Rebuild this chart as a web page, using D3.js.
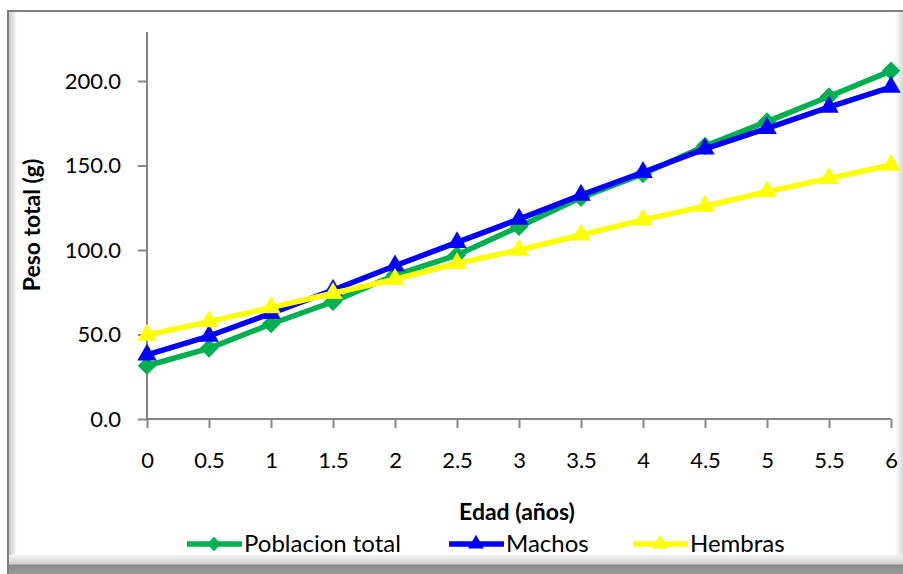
<!DOCTYPE html>
<html>
<head>
<meta charset="utf-8">
<script src="https://cdn.jsdelivr.net/npm/d3@7"></script>
<style>
  body { margin: 0; background: #fff; }
  svg { display: block; font-family: Lato, "Open Sans", sans-serif; }
</style>
</head>
<body>
<svg id="chart" width="903" height="574"></svg>
<script>
// Data
var edades = [0, 0.5, 1, 1.5, 2, 2.5, 3, 3.5, 4, 4.5, 5, 5.5, 6];
var poblacionTotal = [31.5, 41.8, 56.2, 69.4, 85.2, 97.0, 113.8, 131.0, 145.0, 161.5, 176.0, 190.8, 206.0];
var machos = [37.9, 49.1, 62.5, 76.3, 90.7, 104.5, 118.3, 132.5, 146.0, 159.8, 172.0, 184.6, 196.4];
var hembras = [49.7, 57.6, 65.9, 74.4, 82.7, 92.1, 100.0, 108.9, 117.8, 126.0, 134.5, 142.4, 150.3];
var yTicks = [0, 50, 100, 150, 200];

var series = [
  { name: "Poblacion total", values: poblacionTotal, color: "#00B050", marker: "diamond" },
  { name: "Machos", values: machos, color: "#0000FF", marker: "triangle" },
  { name: "Hembras", values: hembras, color: "#FFFF00", marker: "triangle" }
];

var svg = d3.select("#chart"),
    width = +svg.attr("width"),
    height = +svg.attr("height");

// frame with bevel
var defs = svg.append("defs");
var gl = defs.append("linearGradient").attr("id", "bevL").attr("x1", 0).attr("x2", 1);
gl.append("stop").attr("offset", 0).attr("stop-color", "#c8c8c8");
gl.append("stop").attr("offset", 1).attr("stop-color", "#ffffff");
var gb = defs.append("linearGradient").attr("id", "bevB").attr("x1", 0).attr("x2", 0).attr("y1", 0).attr("y2", 1);
gb.append("stop").attr("offset", 0).attr("stop-color", "#f4f4f4");
gb.append("stop").attr("offset", 0.45).attr("stop-color", "#d0d0d0");
gb.append("stop").attr("offset", 0.55).attr("stop-color", "#8a8a8a");
gb.append("stop").attr("offset", 1).attr("stop-color", "#9a9a9a");
var gr = defs.append("linearGradient").attr("id", "bevR").attr("x1", 0).attr("x2", 1);
gr.append("stop").attr("offset", 0).attr("stop-color", "#ffffff");
gr.append("stop").attr("offset", 1).attr("stop-color", "#d8d8d8");

svg.append("rect").attr("x", 0).attr("y", 0).attr("width", width).attr("height", height).attr("fill", "#fff");
svg.append("rect").attr("x", 9).attr("y", 12).attr("width", 8).attr("height", 552).attr("fill", "url(#bevL)");
svg.append("rect").attr("x", 895).attr("y", 12).attr("width", 8).attr("height", 552).attr("fill", "url(#bevR)");
svg.append("rect").attr("x", 9).attr("y", 555).attr("width", 894).attr("height", 19).attr("fill", "url(#bevB)");
svg.append("line").attr("x1", 8).attr("x2", 8).attr("y1", 11).attr("y2", 574).attr("stroke", "#7f7f7f").attr("stroke-width", 2);
svg.append("line").attr("x1", 7).attr("x2", 903).attr("y1", 11).attr("y2", 11).attr("stroke", "#7f7f7f").attr("stroke-width", 2);

// scales
var x = d3.scaleLinear().domain([0, 6]).range([147, 891]);
var y = d3.scaleLinear().domain([0, 229]).range([419, 32]);

// y axis
var yAxis = svg.append("g")
    .attr("transform", "translate(" + x(0) + ",0)")
    .call(d3.axisLeft(y).tickValues(yTicks).tickSize(9).tickPadding(17).tickFormat(d3.format(".1f")));
yAxis.select(".domain").attr("d", "M0," + y(229) + "V" + y(0));
yAxis.selectAll("path,line").attr("stroke", "#868686").attr("stroke-width", 2);
yAxis.selectAll("text").attr("font-size", 22).attr("fill", "#000").attr("font-family", "Lato, sans-serif");

// x axis
var xAxis = svg.append("g")
    .attr("transform", "translate(0," + y(0) + ")")
    .call(d3.axisBottom(x).tickValues(edades).tickSize(9).tickPadding(24).tickFormat(d3.format("")));
xAxis.select(".domain").attr("d", "M" + x(0) + ",0H" + x(6));
xAxis.selectAll("path,line").attr("stroke", "#868686").attr("stroke-width", 2);
xAxis.selectAll("text").attr("font-size", 22).attr("fill", "#000").attr("font-family", "Lato, sans-serif");

// axis titles
svg.append("text")
    .attr("transform", "translate(40,225) rotate(-90)")
    .attr("text-anchor", "middle")
    .attr("font-size", 23).attr("font-weight", "bold")
    .text("Peso total (g)");
svg.append("text")
    .attr("x", 517).attr("y", 520)
    .attr("text-anchor", "middle")
    .attr("font-size", 23).attr("font-weight", "bold")
    .text("Edad (años)");

// lines and markers
var diamond = d3.symbol().type(d3.symbolDiamond2).size(220);
var triangle = d3.symbol().type(d3.symbolTriangle).size(165);
var line = d3.line().x(function (d, i) { return x(edades[i]); }).y(function (d) { return y(d); });

series.forEach(function (s) {
  var g = svg.append("g");
  g.append("path")
      .attr("d", line(s.values))
      .attr("fill", "none")
      .attr("stroke", s.color)
      .attr("stroke-width", 5.5)
      .attr("stroke-linejoin", "round");
  g.selectAll(".mk")
      .data(s.values)
      .enter()
      .append("path")
      .attr("transform", function (d, i) { return "translate(" + x(edades[i]) + "," + y(d) + ")"; })
      .attr("d", s.marker == "diamond" ? diamond : triangle)
      .attr("fill", s.color);
});

// legend
var legendX = [187, 449, 633];
var legend = svg.append("g");
series.forEach(function (s, i) {
  var lg = legend.append("g").attr("transform", "translate(" + legendX[i] + ",544)");
  lg.append("line").attr("x1", 0).attr("x2", 55).attr("y1", 0).attr("y2", 0)
      .attr("stroke", s.color).attr("stroke-width", 5.5);
  lg.append("path").attr("transform", "translate(27,0)")
      .attr("d", (s.marker == "diamond" ? d3.symbol().type(d3.symbolDiamond2).size(130) : d3.symbol().type(d3.symbolTriangle).size(110)))
      .attr("fill", s.color);
  lg.append("text").attr("x", 57).attr("y", 8)
      .attr("font-size", 24).attr("fill", "#000")
      .text(s.name);
});
</script>
</body>
</html>
